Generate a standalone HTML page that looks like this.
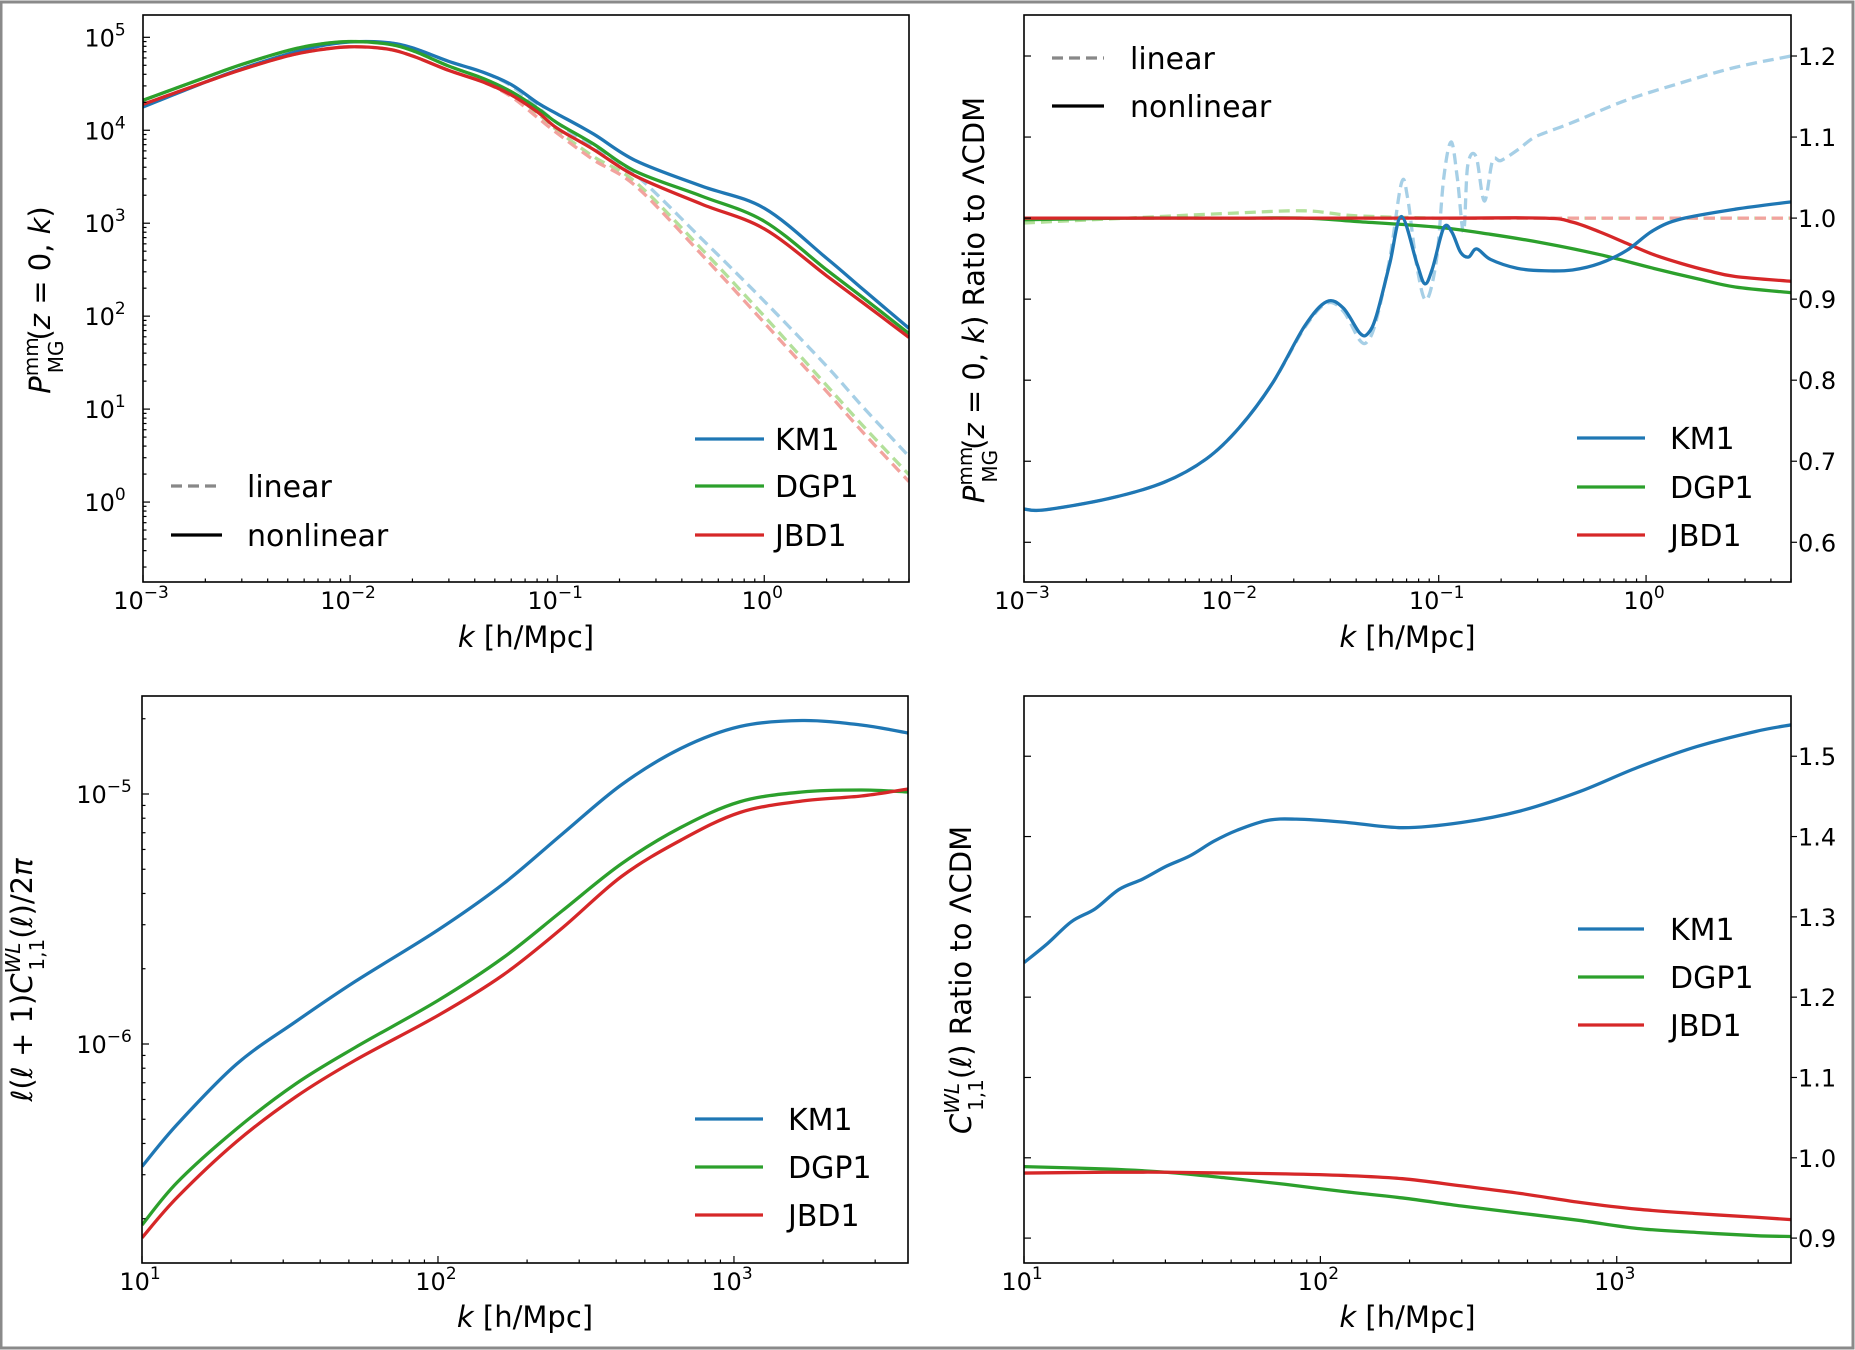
<!DOCTYPE html>
<html><head><meta charset="utf-8"><title>MG power spectra</title>
<style>
html,body{margin:0;padding:0;background:#fff;}
svg{display:block;}
text{font-family:"DejaVu Sans","Liberation Sans",sans-serif;fill:#000;}
</style></head>
<body>
<svg id="fig" width="1855" height="1350" viewBox="0 0 1855 1350" xmlns="http://www.w3.org/2000/svg">
<rect x="0" y="0" width="1855" height="1350" fill="#ffffff"/>
<rect x="1" y="2" width="1852" height="1346" fill="none" stroke="#8a8a8a" stroke-width="3"/>
</svg>
<script>
// ---------- TOP-LEFT: P(k) ----------
const tlK = [0.001,0.002,0.003,0.005,0.007,0.01,0.015,0.02,0.03,0.044,0.06,0.081,0.1,0.15,0.24,0.5,1,2,3,5];
const tlKM1 = [1.78e4,3.3e4,4.6e4,6.6e4,8.0e4,8.9e4,8.8e4,7.7e4,5.5e4,4.2e4,3.1e4,1.95e4,1.5e4,9.1e3,4.7e3,2.5e3,1.45e3,420,194,74];
const tlDGP1 = [2.1e4,3.7e4,5.1e4,7.2e4,8.4e4,9.0e4,8.5e4,7.2e4,4.9e4,3.6e4,2.6e4,1.7e4,1.2e4,7.1e3,3.6e3,1.95e3,1.05e3,315,158,65];
const tlJBD1 = [1.9e4,3.3e4,4.5e4,6.3e4,7.3e4,7.9e4,7.5e4,6.3e4,4.4e4,3.3e4,2.4e4,1.55e4,1.05e4,6.2e3,3.2e3,1.6e3,870,272,139,59];
const tlKM1lin = [1.78e4,3.3e4,4.6e4,6.6e4,8.0e4,8.9e4,8.8e4,7.7e4,5.5e4,4.2e4,3.0e4,1.75e4,1.2e4,6.5e3,3.3e3,676,145,29,10.5,3.1];
const tlDGP1lin = [2.1e4,3.7e4,5.1e4,7.2e4,8.4e4,9.0e4,8.5e4,7.2e4,4.9e4,3.6e4,2.5e4,1.5e4,1.0e4,5.2e3,2.75e3,525,100,18,6.6,1.97];
const tlJBD1lin = [1.9e4,3.3e4,4.5e4,6.3e4,7.3e4,7.9e4,7.5e4,6.3e4,4.4e4,3.3e4,2.3e4,1.35e4,9.3e3,4.8e3,2.5e3,457,85,15.5,5.6,1.66];
const tlYTicks = [0,1,2,3,4,5];
const kTicksTop = [-3,-2,-1,0];

// ---------- TOP-RIGHT: ratio ----------
const trLogK_KM1 = [-3,-2.9,-2.59,-2.325,-2.12,-1.96,-1.8,-1.646,-1.54,-1.46,-1.38,-1.34,-1.3,-1.236,-1.18,-1.105,-1.067,-1.03,-0.976,-0.937,-0.895,-0.856,-0.817,-0.75,-0.62,-0.49,-0.355,-0.224,-0.094,0.036,0.17,0.43,0.699];
const trKM1 = [0.641,0.640,0.654,0.674,0.703,0.742,0.797,0.867,0.897,0.889,0.858,0.858,0.88,0.944,1.002,0.944,0.919,0.938,0.988,0.983,0.958,0.952,0.962,0.949,0.938,0.935,0.936,0.944,0.96,0.985,0.999,1.011,1.02];
const trLogK_KM1lin = [-3,-2.9,-2.59,-2.325,-2.12,-1.96,-1.8,-1.646,-1.54,-1.46,-1.38,-1.34,-1.3,-1.236,-1.18,-1.15,-1.105,-1.06,-1.01,-0.976,-0.94,-0.91,-0.88,-0.86,-0.82,-0.78,-0.74,-0.7,-0.62,-0.55,-0.49,-0.355,-0.1,0.17,0.43,0.699];
const trKM1lin = [0.641,0.640,0.654,0.674,0.703,0.742,0.797,0.865,0.895,0.885,0.849,0.849,0.875,0.95,1.043,1.025,0.94,0.899,0.95,1.049,1.094,1.049,0.983,1.065,1.076,1.021,1.071,1.071,1.084,1.098,1.105,1.118,1.145,1.167,1.186,1.2];
const trLogK_G = [-3,-2.5,-2,-1.646,-1.408,-1.015,-0.75,-0.49,-0.224,0.036,0.25,0.43,0.699];
const trDGP1 = [0.998,1.0,1.0,1.0,0.996,0.989,0.98,0.969,0.955,0.938,0.925,0.915,0.908];
const trDGP1lin = [0.994,1.0,1.006,1.009,1.003,1.0,1.0,1.0,1.0,1.0,1.0,1.0,1.0];
const trLogK_R = [-3,-2,-1,-0.49,-0.355,-0.224,-0.094,0.036,0.17,0.3,0.43,0.699];
const trJBD1 = [1.0,1.0,1.0,1.0,0.995,0.983,0.969,0.955,0.944,0.935,0.928,0.922];
const trJBD1lin = [1.0,1.0,1.0,1.0,1.0,1.0,1.0,1.0,1.0,1.0,1.0,1.0];
const trYTicks = [0.6,0.7,0.8,0.9,1.0,1.1,1.2];

// ---------- BOTTOM-LEFT: C_ell ----------
const blLogL = [1.0,1.12,1.32,1.52,1.72,2.0,2.22,2.42,2.62,2.82,3.02,3.23,3.43,3.588];
const blKM1 = [-6.49,-6.32,-6.08,-5.91,-5.75,-5.544,-5.36,-5.16,-4.963,-4.818,-4.73,-4.706,-4.724,-4.756];
const blDGP1 = [-6.724,-6.552,-6.339,-6.159,-6.014,-5.826,-5.655,-5.467,-5.279,-5.134,-5.031,-4.992,-4.984,-4.992];
const blJBD1 = [-6.775,-6.612,-6.39,-6.211,-6.065,-5.886,-5.724,-5.536,-5.33,-5.185,-5.074,-5.028,-5.008,-4.98];
const blYTicks = [-6,-5];
const lTicks = [1,2,3];

// ---------- BOTTOM-RIGHT: ratio ----------
const brLogL_KM1 = [1.0,1.08,1.16,1.24,1.32,1.40,1.48,1.56,1.64,1.72,1.82,1.918,2.078,2.277,2.476,2.676,2.875,3.07,3.27,3.47,3.588];
const brKM1 = [1.243,1.267,1.294,1.31,1.334,1.347,1.363,1.376,1.394,1.408,1.42,1.4217,1.418,1.411,1.4175,1.432,1.456,1.486,1.512,1.531,1.539];
const brLogL = [1.0,1.28,1.48,1.68,1.88,2.078,2.277,2.476,2.676,2.875,3.07,3.27,3.47,3.588];
const brDGP1 = [0.989,0.986,0.982,0.975,0.967,0.958,0.95,0.94,0.931,0.922,0.912,0.907,0.903,0.902];
const brJBD1 = [0.981,0.982,0.982,0.981,0.980,0.978,0.974,0.965,0.9555,0.9445,0.936,0.9305,0.926,0.923];
const brYTicks = [0.9,1.0,1.1,1.2,1.3,1.4,1.5];

const NS = "http://www.w3.org/2000/svg";
const svg = document.getElementById('fig');
const C = {b:'#1f77b4', g:'#2ca02c', r:'#d62728', lb:'#a6cfe6', lg:'#b3e09a', lr:'#f2a39e'};

function mk(tag, attrs, parent){
  const e = document.createElementNS(NS, tag);
  for (const k in attrs) e.setAttribute(k, attrs[k]);
  (parent||svg).appendChild(e);
  return e;
}
function makeAxis(x0,x1,y0,y1,xmin,xmax,ymin,ymax){
  return {x0,x1,y0,y1,
    sx: v => x0 + (v - xmin)/(xmax - xmin)*(x1 - x0),
    sy: v => y1 - (v - ymin)/(ymax - ymin)*(y1 - y0)};
}
function pathD(pts){
  let d = 'M' + pts[0][0].toFixed(2) + ',' + pts[0][1].toFixed(2);
  for (let i=0;i<pts.length-1;i++){
    const p0 = pts[Math.max(0,i-1)], p1 = pts[i], p2 = pts[i+1], p3 = pts[Math.min(pts.length-1,i+2)];
    const c1x = p1[0] + (p2[0]-p0[0])/6, c1y = p1[1] + (p2[1]-p0[1])/6;
    const c2x = p2[0] - (p3[0]-p1[0])/6, c2y = p2[1] - (p3[1]-p1[1])/6;
    d += ' C' + c1x.toFixed(2)+','+c1y.toFixed(2)+' '+c2x.toFixed(2)+','+c2y.toFixed(2)+' '+p2[0].toFixed(2)+','+p2[1].toFixed(2);
  }
  return d;
}
function clipFor(ax, id){
  const cp = mk('clipPath', {id:id});
  mk('rect', {x:ax.x0, y:ax.y0, width:ax.x1-ax.x0, height:ax.y1-ax.y0}, cp);
  return 'url(#'+id+')';
}
function drawSeries(ax, xs, ys, color, dashed, name, clip){
  const pts = xs.map((x,i)=>[ax.sx(x), ax.sy(ys[i])]);
  const p = mk('path', {d:pathD(pts), fill:'none', stroke:color, 'stroke-width':3.3, 'clip-path':clip, 'stroke-linejoin':'round'});
  if (dashed) p.setAttribute('stroke-dasharray','11,6');
  
  
  return p;
}
function frame(ax, name){
  const r = mk('rect', {x:ax.x0, y:ax.y0, width:ax.x1-ax.x0, height:ax.y1-ax.y0, fill:'none', stroke:'#000', 'stroke-width':1.6});
  
  
}
function powLabel(x, y, exp, anchor, name){
  const t = mk('text', {x:x, y:y, 'font-size':24, 'text-anchor':anchor});
  
  
  const a = mk('tspan', {}, t); a.textContent = '10';
  const b = mk('tspan', {dy:-11, 'font-size':17}, t); b.textContent = (exp<0?'\u2212':'') + Math.abs(exp);
  return t;
}
function logXTicks(ax, decades, lo, hi, name){
  for (let d = Math.floor(lo); d <= Math.ceil(hi); d++){
    for (let m=1;m<=9;m++){
      const v = d + Math.log10(m);
      if (v < lo-1e-6 || v > hi+1e-6) continue;
      const x = ax.sx(v), len = m===1?7:3.5;
      mk('line', {x1:x, x2:x, y1:ax.y1, y2:ax.y1-len, stroke:'#000', 'stroke-width':1.2});
    }
  }
  decades.forEach(d=>{
    powLabel(ax.sx(d)-2, ax.y1+27, d, 'middle', name+'-tick-label');
  });
}
function logYTicks(ax, decades, lo, hi, name){
  for (let d = Math.floor(lo); d <= Math.ceil(hi); d++){
    for (let m=1;m<=9;m++){
      const v = d + Math.log10(m);
      if (v < lo-1e-6 || v > hi+1e-6) continue;
      const y = ax.sy(v), len = m===1?7:3.5;
      mk('line', {x1:ax.x0, x2:ax.x0+len, y1:y, y2:y, stroke:'#000', 'stroke-width':1.2});
    }
  }
  decades.forEach(d=>{
    powLabel(ax.x0-38, ax.sy(d)+9, d, 'middle', name+'-tick-label');
  });
}
function linYTicksRight(ax, ticks, name){
  ticks.forEach(v=>{
    const y = ax.sy(v);
    mk('line', {x1:ax.x0, x2:ax.x0+7, y1:y, y2:y, stroke:'#000', 'stroke-width':1.2});
    mk('line', {x1:ax.x1, x2:ax.x1+6, y1:y, y2:y, stroke:'#000', 'stroke-width':1.2});
    const t = mk('text', {x:ax.x1+7, y:y+9, 'font-size':24});
    t.textContent = v.toFixed(1);
    
    
  });
}
function xLabel(ax, y){
  const t = mk('text', {x:(ax.x0+ax.x1)/2, y:y, 'font-size':29, 'text-anchor':'middle'});
  
  
  const a = mk('tspan', {'font-style':'italic'}, t); a.textContent = 'k';
  const b = mk('tspan', {}, t); b.textContent = ' [h/Mpc]';
}
function yLabel(cx, cy, parts, name){
  const t = mk('text', {x:0, y:0, 'font-size':29, 'text-anchor':'middle', transform:'translate('+cx+','+cy+') rotate(-90)'});
  
  
  parts.forEach(p=>{
    const s = mk('tspan', p.a||{}, t); s.textContent = p.t;
  });
}
function legend(entries, lx0, lx1, tx, ys, name){
  entries.forEach((e,i)=>{
    const l = mk('line', {x1:lx0, x2:lx1, y1:ys[i], y2:ys[i], stroke:e.c, 'stroke-width':3.3});
    if (e.dash) l.setAttribute('stroke-dasharray','11,6');
    
    
    const t = mk('text', {x:tx, y:ys[i]+11, 'font-size':30});
    t.textContent = e.t;
    
    
  });
}
const seriesLeg = [{t:'KM1',c:C.b},{t:'DGP1',c:C.g},{t:'JBD1',c:C.r}];
const styleLeg = [{t:'linear',c:'#888',dash:true},{t:'nonlinear',c:'#000'}];
const PlabelParts = [
  {t:'P', a:{'font-style':'italic'}},
  {t:'mm', a:{dy:-12,'font-size':20}},
  {t:'MG', a:{dx:-36, dy:25,'font-size':20}},
  {t:'(', a:{dy:-13}},
  {t:'z', a:{'font-style':'italic'}},
  {t:' = 0, '},
  {t:'k', a:{'font-style':'italic'}},
  {t:')'}
];

// TL panel
const tl = makeAxis(143,909,15,582,-3,0.699,-0.86,5.24);
const tlClip = clipFor(tl,'clipTL');
const lg = v=>Math.log10(v);
const tlX = tlK.map(lg);
drawSeries(tl, tlX, tlKM1lin.map(lg), C.lb, true, 'km1-linear-line', tlClip);
drawSeries(tl, tlX, tlDGP1lin.map(lg), C.lg, true, 'dgp1-linear-line', tlClip);
drawSeries(tl, tlX, tlJBD1lin.map(lg), C.lr, true, 'jbd1-linear-line', tlClip);
drawSeries(tl, tlX, tlKM1.map(lg), C.b, false, 'km1-nonlinear-line', tlClip);
drawSeries(tl, tlX, tlDGP1.map(lg), C.g, false, 'dgp1-nonlinear-line', tlClip);
drawSeries(tl, tlX, tlJBD1.map(lg), C.r, false, 'jbd1-nonlinear-line', tlClip);
logXTicks(tl, kTicksTop, -3, 0.699, 'x');
logYTicks(tl, tlYTicks, -0.86, 5.24, 'y');
frame(tl, 'power-spectrum-axes');
xLabel(tl, 647);
yLabel(50, 300, PlabelParts, 'y-axis-title');
legend(seriesLeg, 695, 764, 775, [439,486,535], 'model-legend');
legend(styleLeg, 171, 222, 247, [486,535], 'style-legend');

// TR panel
const tr = makeAxis(1024,1791,15,582,-3,0.699,0.551,1.2506);
const trClip = clipFor(tr,'clipTR');
drawSeries(tr, trLogK_KM1lin, trKM1lin, C.lb, true, 'km1-linear-ratio-line', trClip);
drawSeries(tr, trLogK_G, trDGP1lin, C.lg, true, 'dgp1-linear-ratio-line', trClip);
drawSeries(tr, trLogK_R, trJBD1lin, C.lr, true, 'jbd1-linear-ratio-line', trClip);
drawSeries(tr, trLogK_G, trDGP1, C.g, false, 'dgp1-nonlinear-ratio-line', trClip);
drawSeries(tr, trLogK_R, trJBD1, C.r, false, 'jbd1-nonlinear-ratio-line', trClip);
drawSeries(tr, trLogK_KM1, trKM1, C.b, false, 'km1-nonlinear-ratio-line', trClip);
logXTicks(tr, kTicksTop, -3, 0.699, 'x');
linYTicksRight(tr, trYTicks, 'y');
frame(tr, 'power-ratio-axes');
xLabel(tr, 647);
yLabel(984, 300, PlabelParts.concat([{t:' Ratio to \u039BCDM'}]), 'y-axis-title');
legend(styleLeg, 1052, 1104, 1130, [58,106], 'style-legend');
legend(seriesLeg, 1577, 1645, 1670, [438,487,535], 'model-legend');

// BL panel
const bl = makeAxis(142,908,696,1263,1,3.588,-6.876,-4.608);
const blClip = clipFor(bl,'clipBL');
drawSeries(bl, blLogL, blKM1, C.b, false, 'km1-cl-line', blClip);
drawSeries(bl, blLogL, blDGP1, C.g, false, 'dgp1-cl-line', blClip);
drawSeries(bl, blLogL, blJBD1, C.r, false, 'jbd1-cl-line', blClip);
logXTicks(bl, lTicks, 1, 3.588, 'x');
logYTicks(bl, blYTicks, -6.876, -4.608, 'y');
frame(bl, 'weak-lensing-axes');
xLabel(bl, 1327);
yLabel(32, 980, [
  {t:'\u2113', a:{'font-style':'italic'}},{t:'('},{t:'\u2113', a:{'font-style':'italic'}},{t:' + 1)'},
  {t:'C', a:{'font-style':'italic'}},{t:'WL', a:{dy:-12,'font-size':20,'font-style':'italic'}},
  {t:'1,1', a:{dx:-28, dy:24,'font-size':20}},{t:'(', a:{dy:-12}},{t:'\u2113', a:{'font-style':'italic'}},{t:')/2'},{t:'\u03C0', a:{'font-style':'italic'}}
], 'y-axis-title');
legend(seriesLeg, 695, 763, 788, [1119,1167,1215], 'model-legend');

// BR panel
const br = makeAxis(1024,1791,696,1263,1,3.588,0.869,1.575);
const brClip = clipFor(br,'clipBR');
drawSeries(br, brLogL_KM1, brKM1, C.b, false, 'km1-cl-ratio-line', brClip);
drawSeries(br, brLogL, brDGP1, C.g, false, 'dgp1-cl-ratio-line', brClip);
drawSeries(br, brLogL, brJBD1, C.r, false, 'jbd1-cl-ratio-line', brClip);
logXTicks(br, lTicks, 1, 3.588, 'x');
linYTicksRight(br, brYTicks, 'y');
frame(br, 'weak-lensing-ratio-axes');
xLabel(br, 1327);
yLabel(971, 980, [
  {t:'C', a:{'font-style':'italic'}},{t:'WL', a:{dy:-12,'font-size':20,'font-style':'italic'}},
  {t:'1,1', a:{dx:-28, dy:24,'font-size':20}},{t:'(', a:{dy:-12}},{t:'\u2113', a:{'font-style':'italic'}},{t:') Ratio to \u039BCDM'}
], 'y-axis-title');
legend(seriesLeg, 1578, 1644, 1670, [929,977,1025], 'model-legend');
</script>
</body></html>
